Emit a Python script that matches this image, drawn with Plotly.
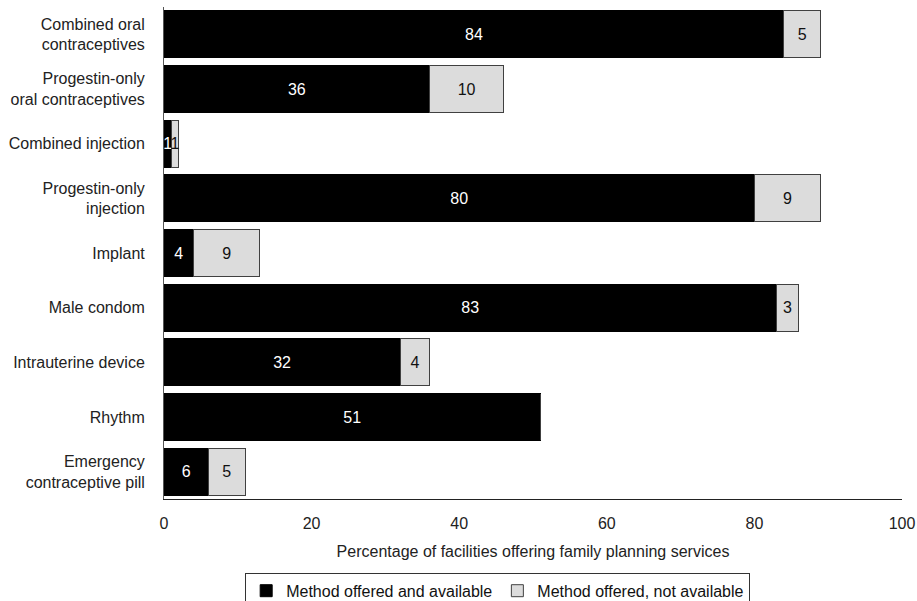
import plotly.graph_objects as go

categories = [
    "Combined oral<br>contraceptives",
    "Progestin-only<br>oral contraceptives",
    "Combined injection",
    "Progestin-only<br>injection",
    "Implant",
    "Male condom",
    "Intrauterine device",
    "Rhythm",
    "Emergency<br>contraceptive pill",
]
available = [84, 36, 1, 80, 4, 83, 32, 51, 6]
not_available = [5, 10, 1, 9, 9, 3, 4, 0, 5]
x_ticks = [0, 20, 40, 60, 80, 100]

def labels(vals):
    return [str(v) if v else "" for v in vals]

fig = go.Figure()
fig.add_trace(go.Bar(
    y=categories, x=available, orientation="h",
    name="Method offered and available",
    marker=dict(color="#000000", line=dict(color="#000000", width=1)),
    text=labels(available), textposition="inside", insidetextanchor="middle",
    textfont=dict(color="white", size=16),
))
fig.add_trace(go.Bar(
    y=categories, x=not_available, orientation="h",
    name="Method offered, not available",
    marker=dict(color="#dcdcdc", line=dict(color="#404040", width=1)),
    text=labels(not_available), textposition="inside", insidetextanchor="middle",
    textfont=dict(color="#111111", size=16),
))

fig.update_layout(
    barmode="stack",
    bargap=0.145,
    width=917, height=601,
    margin=dict(l=164, r=15, t=7, b=102, autoexpand=False),
    paper_bgcolor="white", plot_bgcolor="white",
    font=dict(family="Liberation Sans, Arial, sans-serif", size=16, color="#222222"),
    uniformtext=dict(minsize=16, mode="show"),
    showlegend=True,
    legend=dict(
        orientation="h", traceorder="normal",
        x=0.11, xanchor="left", y=-0.150, yanchor="top",
        bordercolor="#333333", borderwidth=1, bgcolor="white",
        font=dict(size=16, color="#111111"),
        itemwidth=30, tracegroupgap=0,
    ),
)
fig.update_xaxes(
    range=[0, 100], tickvals=x_ticks, ticktext=[str(t) for t in x_ticks],
    showgrid=False, zeroline=False, showline=True, linecolor="#222222", linewidth=1,
    ticks="", ticklabelstandoff=10, ticklabeloverflow="allow",
    title=dict(text="Percentage of facilities offering family planning services", standoff=14,
               font=dict(size=16, color="#222222")),
    automargin=False,
)
fig.update_yaxes(
    autorange="reversed", showgrid=False, zeroline=False,
    showline=True, linecolor="#555555", linewidth=1, ticks="",
    ticklabelstandoff=15, automargin=False,
)

fig.write_html(
    "out.html",
    config={"displayModeBar": False},
    post_script="document.body.style.margin='0';document.body.style.overflow='hidden';",
)
